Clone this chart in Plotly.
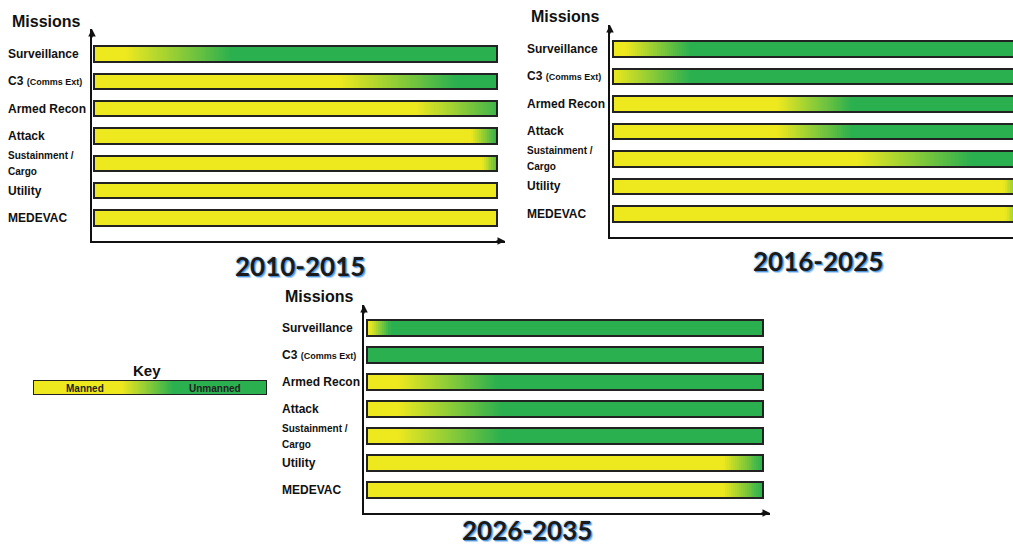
import numpy as np
import plotly.graph_objects as go

W, H = 1013, 547

# ---------------- data ----------------
missions = ["Surveillance", "C3 (Comms Ext)", "Armed Recon", "Attack",
            "Sustainment / Cargo", "Utility", "MEDEVAC"]
mission_labels = ["Surveillance",
                  "C3 <span style='font-size:9px'>(Comms Ext)</span>",
                  "Armed Recon", "Attack",
                  "<span style='font-size:10px'>Sustainment /<br>Cargo</span>",
                  "Utility", "MEDEVAC"]
periods = ["2010-2015", "2016-2025", "2026-2035"]

# fraction of bar where the manned->unmanned shift starts / ends
shift_start_2010 = [0.08, 0.61, 0.80, 0.935, 0.965, 1.5, 1.5]
shift_end_2010 = [0.34, 0.90, 1.02, 1.00, 1.01, 1.6, 1.6]
shift_start_2016 = [0.03, 0.00, 0.41, 0.41, 0.61, 0.97, 0.975]
shift_end_2016 = [0.19, 0.19, 0.59, 0.59, 0.89, 1.03, 1.03]
shift_start_2026 = [0.01, -0.02, 0.08, 0.08, 0.08, 0.90, 0.90]
shift_end_2026 = [0.06, -0.01, 0.33, 0.34, 0.34, 1.00, 1.00]

key_label = ["Key"]
key_shift_start = [0.38]
key_shift_end = [0.60]

YELLOW = np.array([238, 232, 30])
GREEN = np.array([43, 176, 79])


def color_at(x, s, e):
    if e <= s:
        t = 1.0 if x >= e else 0.0
    else:
        t = min(max((x - s) / (e - s), 0.0), 1.0)
    c = YELLOW + (GREEN - YELLOW) * t
    return "rgb(%d,%d,%d)" % tuple(np.round(c).astype(int))


def segments(s, e, step=0.005):
    edges = [0.0]
    a, b = max(min(s, 1.0), 0.0), max(min(e, 1.0), 0.0)
    if a > 0:
        edges.append(a)
    if b > a:
        n = max(int(np.ceil((b - a) / step)), 1)
        edges += list(np.linspace(a, b, n + 1)[1:])
    if edges[-1] < 1.0:
        edges.append(1.0)
    edges = sorted(set(edges))
    base, width, cols = [], [], []
    for l, r in zip(edges[:-1], edges[1:]):
        base.append(l)
        width.append(r - l)
        cols.append(color_at((l + r) / 2, s, e))
    return base, width, cols


def px_x(p):
    return p / W


def px_y(p):
    return 1 - p / H


fig = go.Figure()

starts = [shift_start_2010, shift_start_2016, shift_start_2026]
ends = [shift_end_2010, shift_end_2016, shift_end_2026]

panels = [
    dict(x0=92, x1=505, y0=29, y1=241, xr=[-0.005, 1.02], yr=[6.84, -0.915],
         lab=6, tit=(10, 21), yr_txt=(300, 266), yanch="middle", arrow_x=True),
    dict(x0=610, x1=1013, y0=25, y1=237, xr=[-0.0075, 0.993], yr=[6.84, -0.873],
         lab=525, tit=(529, 17), yr_txt=(818, 261), yanch="middle", arrow_x=False),
    dict(x0=364, x1=770, y0=305, y1=513, xr=[-0.0076, 1.018], yr=[6.85, -0.852],
         lab=280, tit=(283, 296), yr_txt=(527, 547), yanch="bottom", arrow_x=True),
]

BAR_W = 0.56
annotations = []
for i, p in enumerate(panels):
    k = "" if i == 0 else str(i + 1)
    xa, ya = "x" + k, "y" + k
    bx, bw, bc, by = [], [], [], []
    for m, s, e in zip(missions, starts[i], ends[i]):
        b, w, c = segments(s, e)
        bx += b
        bw += w
        bc += c
        by += [m] * len(b)
    fig.add_trace(go.Bar(x=bw, base=bx, y=by, orientation="h", width=BAR_W,
                         marker=dict(color=bc, line=dict(width=0)),
                         xaxis=xa, yaxis=ya, hoverinfo="skip", showlegend=False))
    fig.add_trace(go.Bar(x=[1.0] * len(missions), base=[0] * len(missions), y=missions,
                         orientation="h", width=BAR_W,
                         marker=dict(color="rgba(0,0,0,0)", line=dict(color="#222", width=2)),
                         xaxis=xa, yaxis=ya, hoverinfo="skip", showlegend=False))
    fig.layout["xaxis" + k] = dict(domain=[px_x(p["x0"]), px_x(p["x1"])], range=p["xr"],
                                   anchor=ya, showgrid=False, zeroline=False,
                                   showticklabels=False, ticks="", showline=True,
                                   linecolor="#111", linewidth=2, fixedrange=True)
    fig.layout["yaxis" + k] = dict(domain=[px_y(p["y1"]), px_y(p["y0"])], range=p["yr"],
                                   anchor=xa, type="category", categoryorder="array",
                                   categoryarray=missions, showgrid=False, zeroline=False,
                                   showticklabels=False, ticks="", showline=True,
                                   linecolor="#111", linewidth=2, fixedrange=True)
    # row labels
    for m, lab in zip(missions, mission_labels):
        annotations.append(dict(x=px_x(p["lab"]), xref="paper", y=m, yref=ya,
                                xanchor="left", yanchor="middle", text=lab, showarrow=False,
                                align="left",
                                font=dict(family="Liberation Sans, Arial", size=12,
                                          color="#111", weight="bold")))
    # Missions title
    annotations.append(dict(x=px_x(p["tit"][0]), y=px_y(p["tit"][1]), xref="paper",
                            yref="paper", xanchor="left", yanchor="middle",
                            text="Missions", showarrow=False,
                            font=dict(family="Liberation Sans, Arial", size=16,
                                      color="#111", weight="bold")))
    # period label
    annotations.append(dict(x=px_x(p["yr_txt"][0]), y=px_y(p["yr_txt"][1]), xref="paper",
                            yref="paper", xanchor="center", yanchor=p["yanch"],
                            text=periods[i], showarrow=False, borderpad=0,
                            font=dict(family="Lato, Liberation Sans", size=26,
                                      color="#1a1a1a", weight="bold",
                                      shadow="1px 1px 0px #4f95d8, 2px 2px 1px #a9cdf0, -1px -1px 1px #d5e6f7")))
    # axis arrowheads
    annotations.append(dict(x=px_x(p["x0"]), y=px_y(p["y0"]), xref="paper", yref="paper",
                            ax=0, ay=10, text="", showarrow=True, arrowhead=2,
                            arrowsize=1, arrowwidth=1.5, arrowcolor="#111", standoff=0))
    if p["arrow_x"]:
        annotations.append(dict(x=px_x(p["x1"]), y=px_y(p["y1"]), xref="paper", yref="paper",
                                ax=-10, ay=0, text="", showarrow=True, arrowhead=2,
                                arrowsize=1, arrowwidth=1.5, arrowcolor="#111", standoff=0))

# ---------------- key ----------------
kb, kw, kc = segments(key_shift_start[0], key_shift_end[0])
fig.add_trace(go.Bar(x=kw, base=kb, y=key_label * len(kb), orientation="h", width=1.0,
                     marker=dict(color=kc, line=dict(width=0)),
                     xaxis="x4", yaxis="y4", hoverinfo="skip", showlegend=False))
fig.add_trace(go.Bar(x=[1.0], base=[0], y=key_label, orientation="h", width=1.0,
                     marker=dict(color="rgba(0,0,0,0)", line=dict(color="#222", width=2)),
                     xaxis="x4", yaxis="y4", hoverinfo="skip", showlegend=False))
fig.layout["xaxis4"] = dict(domain=[px_x(33), px_x(267)], range=[0, 1], anchor="y4",
                            visible=False, fixedrange=True)
fig.layout["yaxis4"] = dict(domain=[px_y(395), px_y(380)], range=[-0.5, 0.5], anchor="x4",
                            type="category", visible=False, fixedrange=True)
annotations.append(dict(x=px_x(147), y=px_y(370), xref="paper", yref="paper",
                        text="Key", showarrow=False, xanchor="center", yanchor="middle",
                        font=dict(family="Liberation Sans, Arial", size=15, color="#111",
                                  weight="bold")))
annotations.append(dict(x=px_x(85), y=px_y(388), xref="paper", yref="paper",
                        text="Manned", showarrow=False, xanchor="center", yanchor="middle",
                        font=dict(family="Liberation Sans, Arial", size=10, color="#222",
                                  weight="bold")))
annotations.append(dict(x=px_x(215), y=px_y(388), xref="paper", yref="paper",
                        text="Unmanned", showarrow=False, xanchor="center", yanchor="middle",
                        font=dict(family="Liberation Sans, Arial", size=10, color="#222",
                                  weight="bold")))

fig.update_layout(width=W, height=H, margin=dict(l=0, r=0, t=0, b=0),
                  paper_bgcolor="white", plot_bgcolor="white",
                  bargap=0, bargroupgap=0, barmode="overlay",
                  annotations=annotations, showlegend=False)

fig.write_html("out.html", config={"displayModeBar": False},
               post_script="document.body.style.margin='0px';"
                           "document.body.style.overflow='hidden';")
